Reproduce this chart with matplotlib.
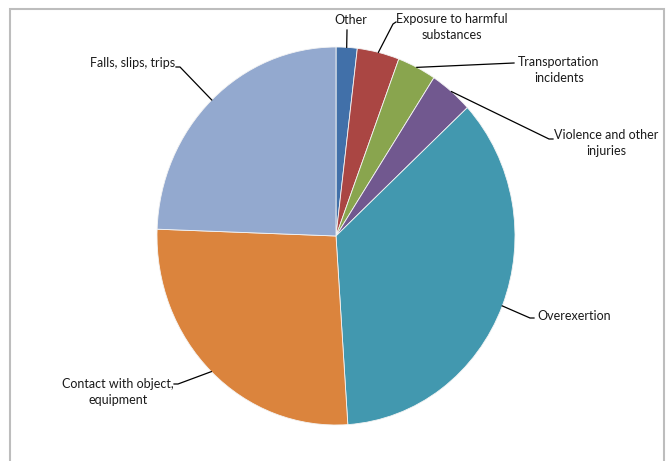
import matplotlib.pyplot as plt
import numpy as np
from matplotlib.lines import Line2D
from matplotlib.patches import Rectangle

plt.rcParams["font.family"] = ["Lato", "DejaVu Sans"]

# share of cases by event type (percent), clockwise from 12 o'clock
categories = ["Other", "Exposure to harmful\nsubstances", "Transportation\nincidents",
              "Violence and other\ninjuries", "Overexertion",
              "Contact with object,\nequipment", "Falls, slips, trips"]
shares = [1.9, 3.8, 3.5, 3.9, 35.8, 26.6, 24.4]
colors = ["#4170A9", "#AA4643", "#89A54E", "#71588F", "#4298AF", "#DB843D", "#93A9CF"]

W, H = 666, 461

# label layout in pixels (top-left origin): elbow of leader, hook length, text anchor, alignment
label_layout = [
    ((347, 30), 0, (351, 20), "center"),
    ((393, 24), 3, (452, 27), "center"),
    ((514, 63), 0, (559, 70), "center"),
    ((549, 139), 4, (606, 143), "center"),
    ((530, 318), 4, (537, 316), "left"),
    ((178, 384), -4, (118, 392), "center"),
    ((180, 67), -4, (175, 63), "right"),
]


def fig_xy(px, py):
    return px / W, 1 - py / H


fig = plt.figure(figsize=(W / 100, H / 100), dpi=100)

# pie area: slightly taller than wide, as in the reference
ax = fig.add_axes([157 / W, 1 - 425 / H, 358 / W, 378 / H])
wedges, _ = ax.pie(shares, colors=colors, startangle=90, counterclock=False,
                   radius=1, wedgeprops=dict(edgecolor="#f4f4f4", linewidth=0.6))
ax.set_aspect("auto")
ax.set_xlim(-1, 1)
ax.set_ylim(-1, 1)

# gray chart border (bottom edge runs off the image)
fig.patches.append(Rectangle(fig_xy(9.5, 470), (663.5 - 9.5) / W, (470 - 8.5) / H,
                             transform=fig.transFigure, fill=False,
                             edgecolor="#bdbdbd", linewidth=1.5))

for w, name, (elbow, hook, txt, ha) in zip(wedges, categories, label_layout):
    mid = np.deg2rad((w.theta1 + w.theta2) / 2)
    edge = fig.transFigure.inverted().transform(
        ax.transData.transform((np.cos(mid), np.sin(mid))))
    ex, ey = fig_xy(*elbow)
    xs, ys = [edge[0], ex], [edge[1], ey]
    if hook:
        xs.append(ex + hook / W)
        ys.append(ey + (2 / H if name.startswith("Exposure") else 0))
    fig.lines.append(Line2D(xs, ys, transform=fig.transFigure, color="black", linewidth=0.9))
    tx, ty = fig_xy(*txt)
    fig.text(tx, ty, name, ha=ha, va="center", fontsize=9, color="#1a1a1a",
             linespacing=1.35)

fig.savefig("out.png", dpi=100)
